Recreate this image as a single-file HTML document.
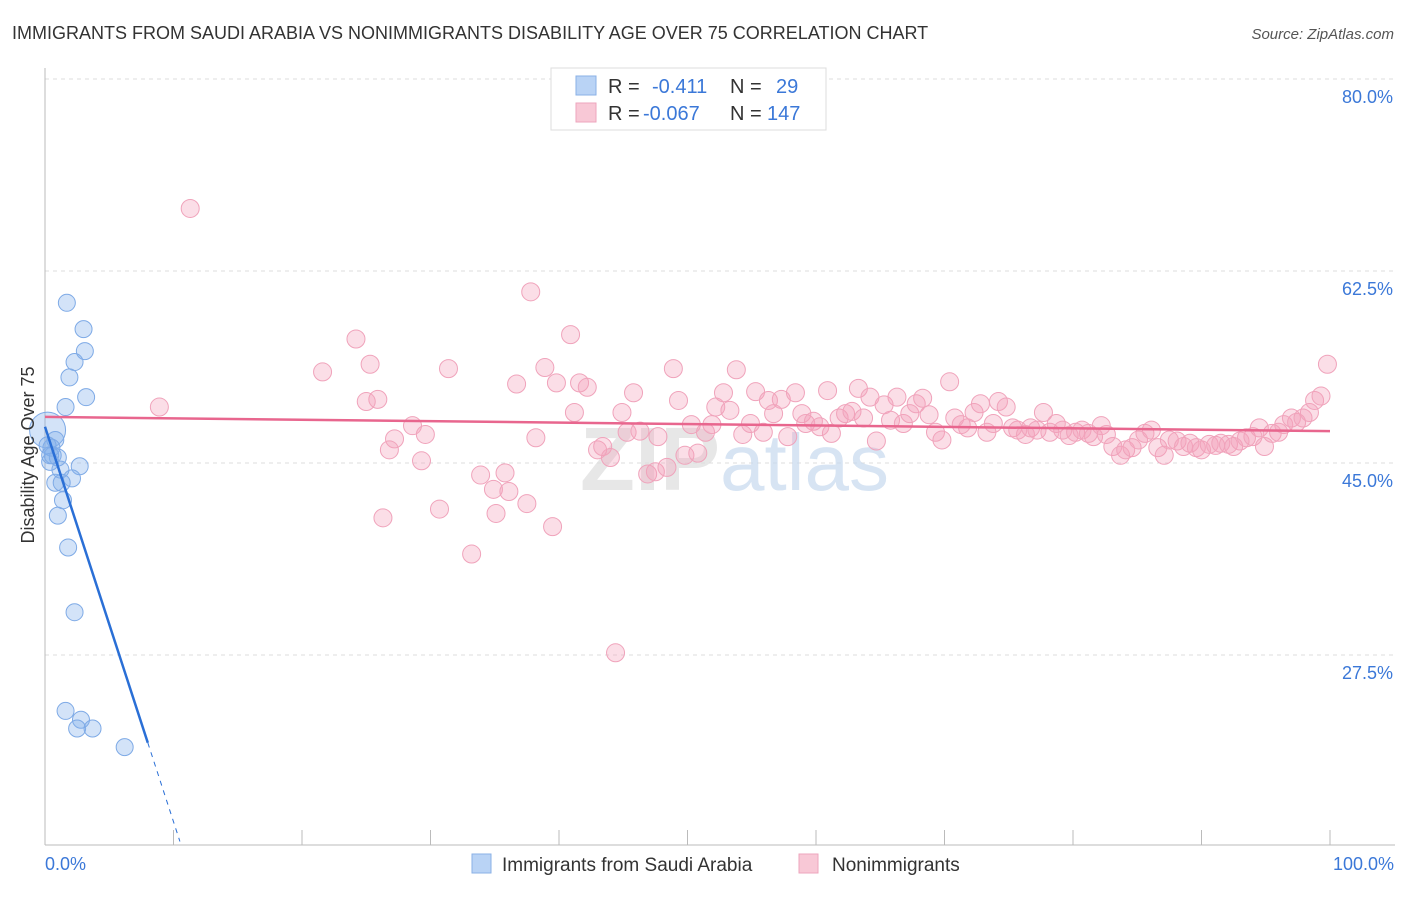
<!DOCTYPE html>
<html><head><meta charset="utf-8"><style>
body{margin:0;background:#fff;font-family:"Liberation Sans",sans-serif;}
svg text{font-family:"Liberation Sans",sans-serif;}
</style></head><body>
<svg width="1406" height="892" xmlns="http://www.w3.org/2000/svg">
<text x="12" y="39" font-size="18" fill="#333">IMMIGRANTS FROM SAUDI ARABIA VS NONIMMIGRANTS DISABILITY AGE OVER 75 CORRELATION CHART</text>
<text x="1394" y="39" font-size="15" fill="#555" font-style="italic" text-anchor="end">Source: ZipAtlas.com</text>
<g id="grid"></g>
<text x="720" y="490" font-size="90" font-weight="bold" fill="#ddd" text-anchor="end" opacity="0.7">ZIP</text>
<text x="720" y="490" font-size="80" fill="#c7d9ee" opacity="0.7">atlas</text>
<g id="pts"></g>
<g id="lines"></g>
<text transform="translate(34,455) rotate(-90)" font-size="18" fill="#333" text-anchor="middle">Disability Age Over 75</text>
<text x="45" y="870" font-size="18" fill="#3b78d8">0.0%</text>
<text x="1394" y="870" font-size="18" fill="#3b78d8" text-anchor="end">100.0%</text>
<g>
<rect x="551" y="68" width="275" height="62" fill="#fff" stroke="#ddd"/>
<rect x="576" y="76" width="20" height="19" fill="#b9d3f5" stroke="#8ab0e6"/>
<rect x="576" y="103" width="20" height="19" fill="#f8c8d6" stroke="#eea6bd"/>
<text x="608" y="93" font-size="20" fill="#333">R = <tspan fill="#3b78d8" x="652">-0.411</tspan><tspan x="730">N = </tspan><tspan fill="#3b78d8" x="776">29</tspan></text>
<text x="608" y="120" font-size="20" fill="#333">R = <tspan fill="#3b78d8" x="643">-0.067</tspan><tspan x="730">N = </tspan><tspan fill="#3b78d8" x="767">147</tspan></text>
</g>
<g>
<rect x="472" y="854" width="19" height="19" fill="#b9d3f5" stroke="#8ab0e6"/>
<text x="502" y="871" font-size="19" fill="#333">Immigrants from Saudi Arabia</text>
<rect x="799" y="854" width="19" height="19" fill="#f8c8d6" stroke="#eea6bd"/>
<text x="832" y="871" font-size="19" fill="#333">Nonimmigrants</text>
</g>
</svg>
<script>
const blueX=[1.7,3.0,3.1,2.3,1.9,3.2,1.6,0.2,0.8,0.5,1.0,0.4,2.7,2.1,0.8,1.3,1.4,1.0,1.8,2.3,1.6,2.8,2.5,3.7,6.2,0.2,0.6,1.2,0.4];
const blueY=[59.6,57.2,55.2,54.2,52.8,51.0,50.1,48.0,47.1,46.4,45.5,45.1,44.7,43.6,43.2,43.2,41.6,40.2,37.3,31.4,22.4,21.6,20.8,20.8,19.1,46.6,45.7,44.4,45.7];
const pinkX=[11.3,37.8,8.9,21.6,24.2,25.3,25.9,25.0,27.2,26.8,29.6,29.3,28.6,31.4,26.3,30.7,33.2,33.9,34.9,35.8,36.1,35.1,37.5,36.7,38.2,38.9,39.8,39.5,40.9,41.2,41.6,42.2,43.0,43.4,44.0,44.4,44.9,45.3,45.8,46.3,46.9,47.5,47.7,48.4,48.9,49.3,49.8,50.3,50.8,51.4,51.9,52.2,52.8,53.3,53.8,54.3,54.9,55.3,55.9,56.3,56.7,57.3,57.8,58.4,58.9,59.2,59.8,60.3,60.9,61.2,61.8,62.3,62.8,63.3,63.7,64.2,64.7,65.3,65.8,66.3,66.8,67.3,67.8,68.3,68.8,69.3,69.8,70.4,70.8,71.3,71.8,72.3,72.8,73.3,73.8,74.2,74.8,75.3,75.7,76.3,76.7,77.2,77.7,78.2,78.7,79.2,79.7,80.2,80.7,81.2,81.6,82.2,82.6,83.1,83.7,84.1,84.6,85.1,85.6,86.1,86.6,87.1,87.5,88.1,88.6,89.1,89.6,90.0,90.6,91.1,91.5,92.1,92.5,93.0,93.5,94.0,94.5,94.9,95.5,96.0,96.4,97.0,97.4,97.9,98.4,98.8,99.3,99.8];
const pinkY=[68.2,60.6,50.1,53.3,56.3,54.0,50.8,50.6,47.2,46.2,47.6,45.2,48.4,53.6,40.0,40.8,36.7,43.9,42.6,44.1,42.4,40.4,41.3,52.2,47.3,53.7,52.3,39.2,56.7,49.6,52.3,51.9,46.2,46.5,45.5,27.7,49.6,47.8,51.4,47.9,44.0,44.2,47.4,44.6,53.6,50.7,45.7,48.5,45.9,47.8,48.5,50.1,51.4,49.8,53.5,47.6,48.6,51.5,47.8,50.7,49.5,50.8,47.4,51.4,49.5,48.6,48.8,48.3,51.6,47.7,49.1,49.5,49.7,51.8,49.1,51.0,47.0,50.3,48.9,51.0,48.6,49.5,50.4,50.9,49.4,47.8,47.1,52.4,49.1,48.5,48.2,49.6,50.4,47.8,48.6,50.6,50.1,48.2,48.0,47.6,48.2,48.0,49.6,47.8,48.6,48.0,47.5,47.8,48.0,47.7,47.4,48.4,47.6,46.5,45.7,46.2,46.4,47.1,47.7,48.0,46.4,45.7,47.1,47.0,46.5,46.8,46.4,46.2,46.7,46.6,46.8,46.7,46.5,47.0,47.3,47.4,48.2,46.5,47.7,47.8,48.5,49.1,48.7,49.1,49.6,50.7,51.1,54.0];
const yTicks=[80,62.5,45,27.5];
const blueFit=[48.3,-3.6];
const pinkFit=[49.2,-0.013];
const NS='http://www.w3.org/2000/svg';
const X0=45,X1=1330,Y80=79,PXPER=10.971;
function sx(v){return X0+(X1-X0)*v/100;}
function sy(v){return Y80+(80-v)*PXPER;}
function mk(t,a,p){const e=document.createElementNS(NS,t);for(const k in a)e.setAttribute(k,a[k]);p.appendChild(e);return e;}
const grid=document.getElementById('grid');
yTicks.forEach(t=>{
  const l=mk('line',{x1:45,x2:1395,y1:sy(t),y2:sy(t),stroke:'#ddd','stroke-dasharray':'4,4'},grid);
  
  
  const tx=mk('text',{x:1393,y:sy(t)+24,'font-size':18,fill:'#3b78d8','text-anchor':'end'},grid);
  tx.textContent=t.toFixed(1)+'%';
  
  
});
const ax=mk('line',{x1:45,x2:1395,y1:845,y2:845,stroke:'#bbb'},grid);


const ay=mk('line',{x1:45,x2:45,y1:68,y2:845,stroke:'#bbb'},grid);


for(let i=0;i<=10;i++){
  const tk=mk('line',{x1:sx(i*10),x2:sx(i*10),y1:830,y2:845,stroke:'#bbb'},grid);
  
  
}
const pts=document.getElementById('pts');
pinkX.forEach((x,i)=>{
  const c=mk('circle',{cx:sx(x),cy:sy(pinkY[i]),r:9,fill:'rgba(244,160,186,0.35)',stroke:'#f0a3bb','stroke-width':1},pts);
  
  
});
blueX.forEach((x,i)=>{
  const c=mk('circle',{cx:sx(x),cy:sy(blueY[i]),r:i===7?18:8.5,fill:'rgba(130,175,235,0.35)',stroke:'#7eaae6','stroke-width':1},pts);
  
  
});
const lines=document.getElementById('lines');
const pl=mk('line',{x1:sx(0),y1:sy(pinkFit[0]),x2:sx(100),y2:sy(pinkFit[0]+pinkFit[1]*100),stroke:'#e8668e','stroke-width':2.5},lines);


const bl=mk('line',{x1:sx(0),y1:sy(blueFit[0]),x2:sx(8),y2:sy(blueFit[0]+blueFit[1]*8),stroke:'#2a6fd6','stroke-width':2.5},lines);


const bd=mk('line',{x1:sx(8),y1:sy(blueFit[0]+blueFit[1]*8),x2:sx(10.5),y2:sy(blueFit[0]+blueFit[1]*10.5),stroke:'#2a6fd6','stroke-width':1,'stroke-dasharray':'5,5'},lines);


</script>
</body></html>
